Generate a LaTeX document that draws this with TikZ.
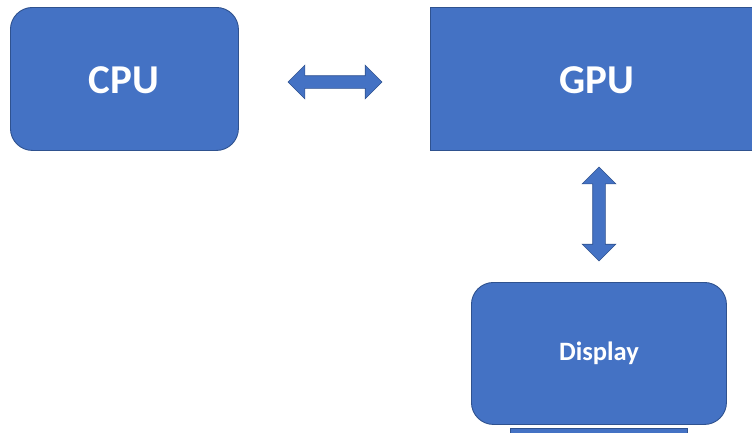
\documentclass[tikz,border=0pt]{standalone}
\usepackage{fontspec}
\setmainfont{Carlito}
\usetikzlibrary{shapes.arrows}
\definecolor{boxfill}{HTML}{4472C4}
\definecolor{boxline}{HTML}{2F528F}
\begin{document}
\begin{tikzpicture}[x=1pt,y=-1pt,
  unit/.style={draw=boxline, fill=boxfill, line width=0.9pt, text=white,
    font=\bfseries, inner sep=0pt, anchor=north west},
  roundunit/.style={unit, rounded corners=22pt},
  link/.style={double arrow, draw=boxline, fill=boxfill, line width=0.6pt,
    inner sep=6pt, double arrow head extend=10.5pt,
    minimum height=94pt}]
\useasboundingbox (0,0) rectangle (752,432);

% processing units
\node[roundunit, minimum width=228pt, minimum height=143pt] (cpu) at (10,7) {};
\node[font=\bfseries\fontsize{41}{41}\selectfont, text=white] (cpulbl) at (124,80) {CPU};

\node[unit, minimum width=340pt, minimum height=143pt] (gpu) at (430,7) {};
\node[font=\bfseries\fontsize{41}{41}\selectfont, text=white] (gpulbl) at (597,80) {GPU};

% monitor
\node[roundunit, minimum width=255pt, minimum height=142pt] (disp) at (471,282) {};
\node[font=\bfseries\fontsize{26.5}{26.5}\selectfont, text=white] (displbl) at (599,353) {Display};
\node[unit, minimum width=177pt, minimum height=20pt] (stand) at (510,428) {};

% bidirectional links
\node[link] (cpugpu) at (335,82) {};
\node[link, shape border rotate=90] (gpudisp) at (599,214) {};
\end{tikzpicture}
\end{document}
